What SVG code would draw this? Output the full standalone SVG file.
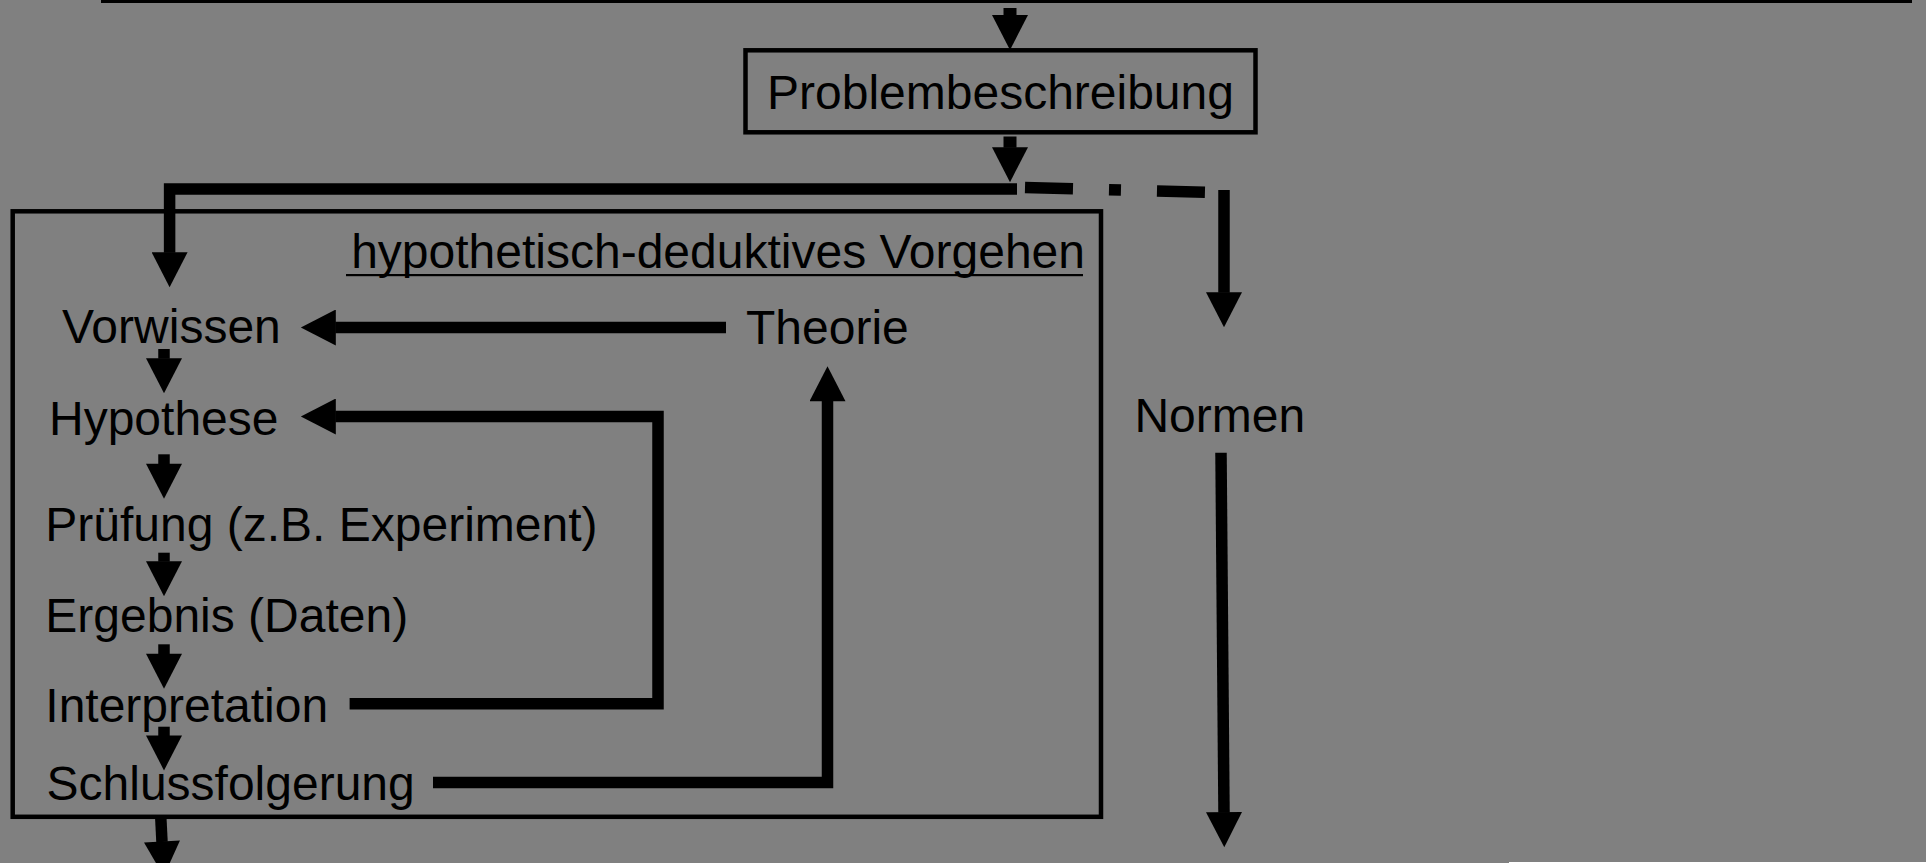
<svg xmlns="http://www.w3.org/2000/svg" width="1926" height="863" viewBox="0 0 1926 863">
  <style>
    .t { font-family: "Liberation Sans", Arial, sans-serif; font-size: 48px; fill: #000; }
    .c { fill: none; stroke: #000; stroke-width: 11.5; stroke-linecap: butt; stroke-linejoin: miter; }
    .box { fill: none; stroke: #000; stroke-width: 4.5; }
  </style>
  <defs>
    <marker id="ah" markerUnits="userSpaceOnUse" markerWidth="36" markerHeight="36" viewBox="0 0 34 35" refX="0.5" refY="17.5" orient="auto">
      <path d="M0,0 L34,17.5 L0,35 z" fill="#000"/>
    </marker>
  </defs>
  <rect x="0" y="0" width="1926" height="863" fill="#808080"/>
  <rect x="1509" y="862" width="417" height="1" fill="#ffffff"/>
  <rect x="101" y="0" width="1811" height="3" fill="#000"/>

  <g id="connectors">
    <line class="c" x1="1010" y1="8" x2="1010" y2="15.5" style="stroke-width:13" marker-end="url(#ah)"/>
    <line class="c" x1="1010" y1="136.5" x2="1010" y2="147.7" style="stroke-width:13" marker-end="url(#ah)"/>
    <path class="c" d="M1017,189 H169.6 V252.7" marker-end="url(#ah)"/>
    <path class="c" d="M1025,187.6 L1205,192.2" stroke-dasharray="48 36 12 36"/>
    <line class="c" x1="1224" y1="190" x2="1224" y2="292.7" marker-end="url(#ah)"/>
    <path class="c" d="M726,327.5 H335.3" marker-end="url(#ah)"/>
    <path class="c" d="M349.6,703.8 H658 V416.5 H335.3" marker-end="url(#ah)"/>
    <path class="c" d="M433,782.5 H827.5 V400.7" marker-end="url(#ah)"/>
    <line class="c" x1="164" y1="349" x2="164" y2="358.7" marker-end="url(#ah)"/>
    <line class="c" x1="164" y1="454.3" x2="164" y2="464.3" marker-end="url(#ah)"/>
    <line class="c" x1="164" y1="552.7" x2="164" y2="561.7" marker-end="url(#ah)"/>
    <line class="c" x1="164" y1="644.3" x2="164" y2="654.3" marker-end="url(#ah)"/>
    <line class="c" x1="164" y1="726.7" x2="164" y2="736" marker-end="url(#ah)"/>
    <line class="c" x1="160.7" y1="816" x2="162" y2="842" marker-end="url(#ah)"/>
    <line class="c" x1="1221" y1="452.7" x2="1224" y2="812.7" marker-end="url(#ah)"/>
  </g>

  <g id="problembeschreibung">
    <rect class="box" x="745.5" y="50.3" width="510" height="82"/>
    <text class="t" x="767" y="109.3">Problembeschreibung</text>
  </g>
  <g id="hypothetisch-deduktives-vorgehen">
    <rect class="box" x="12.7" y="211.3" width="1088.3" height="605.5"/>
    <text class="t" x="1085" y="268" text-anchor="end">hypothetisch-deduktives Vorgehen</text>
    <rect x="346" y="274" width="737" height="2.2" fill="#000"/>
  </g>
  <g id="vorwissen"><text class="t" x="62" y="343.3">Vorwissen</text></g>
  <g id="hypothese"><text class="t" x="49" y="434.5">Hypothese</text></g>
  <g id="pruefung"><text class="t" x="45.3" y="540.7">Prüfung (z.B. Experiment)</text></g>
  <g id="ergebnis"><text class="t" x="45.3" y="631.7">Ergebnis (Daten)</text></g>
  <g id="interpretation"><text class="t" x="45.3" y="721.7">Interpretation</text></g>
  <g id="schlussfolgerung"><text class="t" x="46.5" y="800">Schlussfolgerung</text></g>
  <g id="theorie"><text class="t" x="746" y="344">Theorie</text></g>
  <g id="normen"><text class="t" x="1134.4" y="431.7">Normen</text></g>
</svg>
